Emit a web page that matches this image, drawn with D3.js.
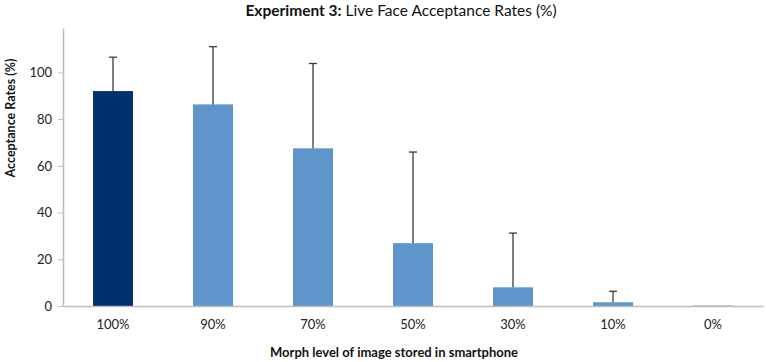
<!DOCTYPE html>
<html>
<head>
<meta charset="utf-8">
<script src="https://cdn.jsdelivr.net/npm/d3@7"></script>
<style>
  body { margin: 0; background: #fff; }
  svg text { font-family: Lato, "Open Sans", sans-serif; }
</style>
</head>
<body>
<script>
const w = 766;
const h = 362;

// chart data
const levels = ["100%", "90%", "70%", "50%", "30%", "10%", "0%"];
const rates = [92, 86.3, 67.5, 26.9, 8.0, 1.6, 0.2];
const errors = [14.5, 24.7, 36.3, 39, 23.2, 4.7, 0];
const yTicks = [0, 20, 40, 60, 80, 100];

const margin = {top: 28, left: 63, right: 3, bottom: 56};

let svg = d3.select("body")
            .append("svg")
            .attr("width", w)
            .attr("height", h)

let x = d3.scaleBand()
        .domain(levels)
        .range([margin.left, w - margin.right])
        .paddingInner(0.6)
        .paddingOuter(0.3);

let y = d3.scaleLinear()
        .domain([0, 119])
        .range([h - margin.bottom, margin.top]);

// y axis
let yAxis = svg.append("g")
   .attr("transform", `translate(${margin.left},0)`)
   .call(d3.axisLeft(y).tickValues(yTicks).tickSize(5).tickPadding(6).tickSizeOuter(0));
yAxis.select(".domain").attr("stroke", "#bdbdbd").attr("stroke-width", 1.5);
yAxis.selectAll(".tick line").attr("stroke", "#bdbdbd");
yAxis.selectAll(".tick text").attr("font-size", 13).attr("fill", "#222");

// bars
svg.selectAll("rect.bar")
   .data(levels)
   .enter()
   .append("rect")
   .attr("class", "bar")
   .attr("x", (d) => x(d))
   .attr("width", x.bandwidth())
   .attr("y", (d, i) => y(rates[i]))
   .attr("height", (d, i) => y(0) - y(rates[i]))
   .attr("fill", (d, i) => i === 0 ? "#00306e" : "#5e96cb");

// error bars (upper only)
let eb = svg.selectAll("g.err")
   .data(levels.filter((d, i) => errors[i] > 0))
   .enter()
   .append("g")
   .attr("class", "err")
   .attr("stroke", "#3a3a3a")
   .attr("stroke-width", 1.3);
eb.append("line")
   .attr("x1", (d) => x(d) + x.bandwidth() / 2)
   .attr("x2", (d) => x(d) + x.bandwidth() / 2)
   .attr("y1", (d) => y(rates[levels.indexOf(d)]))
   .attr("y2", (d) => { let i = levels.indexOf(d); return y(rates[i] + errors[i]); });
eb.append("line")
   .attr("x1", (d) => x(d) + x.bandwidth() / 2 - 4)
   .attr("x2", (d) => x(d) + x.bandwidth() / 2 + 4)
   .attr("y1", (d) => { let i = levels.indexOf(d); return y(rates[i] + errors[i]); })
   .attr("y2", (d) => { let i = levels.indexOf(d); return y(rates[i] + errors[i]); });

// x axis
let xAxis = svg.append("g")
   .attr("transform", `translate(0,${y(0)})`)
   .call(d3.axisBottom(x).tickSize(0).tickPadding(14).tickSizeOuter(0));
xAxis.select(".domain").attr("stroke", "#bdbdbd").attr("stroke-width", 1.5);
xAxis.selectAll(".tick text").attr("font-size", 13).attr("fill", "#222");

// titles (nudged in so they are not clipped)
let title = svg.append("text")
   .attr("x", 401)
   .attr("y", 16)
   .attr("text-anchor", "middle")
   .attr("font-size", 15.5)
   .attr("fill", "#111");
title.append("tspan").attr("font-weight", "bold").text("Experiment 3:");
title.append("tspan").text(" Live Face Acceptance Rates (%)");

svg.append("text")
   .attr("x", 394)
   .attr("y", 357)
   .attr("text-anchor", "middle")
   .attr("font-size", 13)
   .attr("font-weight", "bold")
   .attr("fill", "#111")
   .text("Morph level of image stored in smartphone");

svg.append("text")
   .attr("transform", "translate(15,118) rotate(-90)")
   .attr("text-anchor", "middle")
   .attr("font-size", 12.5)
   .attr("font-weight", "bold")
   .attr("fill", "#111")
   .text("Acceptance Rates (%)");
</script>
</body>
</html>
